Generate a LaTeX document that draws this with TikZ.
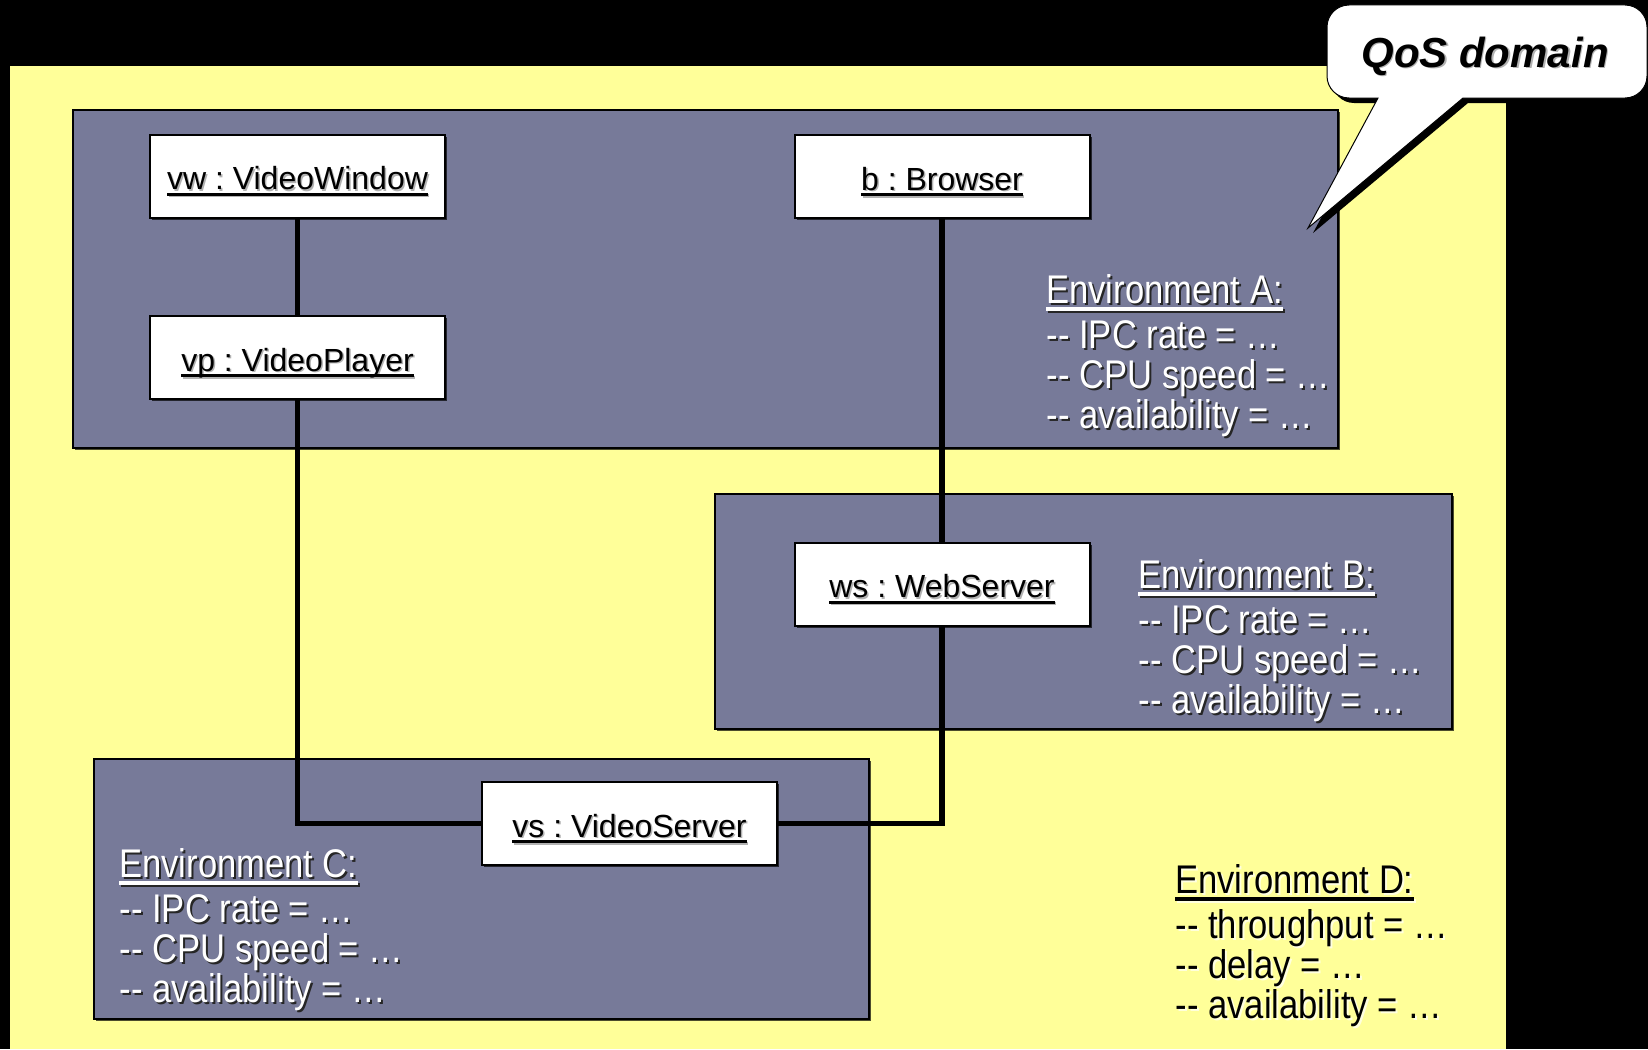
\documentclass[tikz,border=0pt]{standalone}
\usepackage{fontspec}
\setmainfont{Liberation Sans}
\newfontfamily\narrowfont[FakeStretch=0.865]{Liberation Sans}
\usetikzlibrary{shadows}
\frenchspacing

\definecolor{domainyellow}{HTML}{FFFF99}
\definecolor{envfill}{HTML}{777A99}

% two hyphens, kept apart so they never form a dash
\newcommand\dsh{-\kern0.5pt-}
% underlined object name
\newcommand\objul[1]{\setbox0=\hbox{#1}\rlap{\copy0}\smash{\rule[-0.19em]{\wd0}{0.085em}}}
% underlined environment title
\newcommand\envul[1]{\setbox0=\hbox{#1}\rlap{\copy0}\smash{\rule[-0.2em]{\wd0}{0.09em}}}
% four-line environment note, baseline at its first line
\newcommand\envlines[4]{\vtop{\baselineskip=40pt\lineskiplimit=-100pt
  \hbox{\envul{#1}}\vskip5pt\hbox{#2}\hbox{#3}\hbox{#4}}}

\tikzset{
  envbox/.style={draw=black, line width=2pt, fill=envfill, inner sep=0pt,
    drop shadow={shadow xshift=2pt, shadow yshift=-2pt, fill=black, opacity=0.7}},
  objbox/.style={draw=black, line width=2pt, fill=white, inner sep=0pt,
    minimum width=295pt, minimum height=83pt,
    drop shadow={shadow xshift=2pt, shadow yshift=-2pt, fill=black, opacity=0.7}},
  objlabel/.style={inner sep=0pt, text height=27pt, text depth=0pt,
    font=\fontsize{32}{38}\selectfont},
  envtext/.style={inner sep=0pt, anchor=base west,
    font=\narrowfont\fontsize{40}{40}\selectfont},
  wire/.style={draw=black, line width=5.5pt},
}

% object box with its shadowed, underlined name
\newcommand\objnode[3]{%
  \node[objbox] (#1) at (#2) {};
  \node[objlabel, text=black!30, xshift=1.5pt, yshift=-1.5pt] (#1-shadow) at (#1.center) {\objul{#3}};
  \node[objlabel] (#1-label) at (#1.center) {\objul{#3}};}

% environment note with a drop shadow under the letters
\newcommand\envnote[8]{%
  \node[envtext, text=#4, xshift=2pt, yshift=-2pt] (#1-shadow) at (#2) {\envlines{#5}{#6}{#7}{#8}};
  \node[envtext, text=#3] (#1) at (#2) {\envlines{#5}{#6}{#7}{#8}};}

\begin{document}
\begin{tikzpicture}[x=1pt, y=-1pt]
  \useasboundingbox (0,0) rectangle (1648,1049);
  \fill[black] (0,0) rectangle (1648,1049);
  \fill[domainyellow] (10,66) rectangle (1506,1049);

  % environments
  \node[envbox, minimum width=1265pt, minimum height=338pt] (envA-box) at (705.5,279) {};
  \node[envbox, minimum width=737pt, minimum height=235pt] (envB-box) at (1083.5,611.5) {};
  \node[envbox, minimum width=775pt, minimum height=260pt] (envC-box) at (481.5,889) {};

  % objects
  \objnode{vw}{297.5,176}{vw : VideoWindow}
  \objnode{vp}{297.5,357.5}{vp : VideoPlayer}
  \objnode{b}{942,176.5}{b : Browser}
  \objnode{ws}{942,584}{ws : WebServer}
  \objnode{vs}{629.5,823.5}{vs : VideoServer}

  % links
  \draw[wire] (vw) -- (vp);
  \draw[wire] (vp.south) |- (vs.west);
  \draw[wire] (b) -- (ws);
  \draw[wire] (ws.south) |- (vs.east);

  % environment properties
  \envnote{envA}{1046,303}{white}{black!85}{Environment A:}
    {\dsh{} IPC rate = …}{\dsh{} CPU speed = …}{\dsh{} availability = …}
  \envnote{envB}{1138,588}{white}{black!85}{Environment B:}
    {\dsh{} IPC rate = …}{\dsh{} CPU speed = …}{\dsh{} availability = …}
  \envnote{envC}{119,877}{white}{black!85}{Environment C:}
    {\dsh{} IPC rate = …}{\dsh{} CPU speed = …}{\dsh{} availability = …}
  \envnote{envD}{1175,893}{black}{white!70!domainyellow}{Environment D:}
    {\dsh{} throughput = …}{\dsh{} delay = …}{\dsh{} availability = …}

  % callout
  \begin{scope}[shift={(5,5)}]
    \fill[black] (1308,228) -- (1463,98)
      {[rounded corners=22pt] -- (1647,98) -- (1647,5) -- (1327,5) -- (1327,98)}
      -- (1378,98) -- cycle;
  \end{scope}
  \draw[fill=white, line width=1pt] (1308,228) -- (1463,98)
      {[rounded corners=22pt] -- (1647,98) -- (1647,5) -- (1327,5) -- (1327,98)}
      -- (1378,98) -- cycle;
  \node[font=\bfseries\itshape\fontsize{42}{48}\selectfont, text=black!30, anchor=base,
    xshift=1.5pt, yshift=-1.5pt] (qos-shadow) at (1485,67) {QoS domain};
  \node[font=\bfseries\itshape\fontsize{42}{48}\selectfont, anchor=base] (qos) at (1485,67) {QoS domain};
\end{tikzpicture}
\end{document}
